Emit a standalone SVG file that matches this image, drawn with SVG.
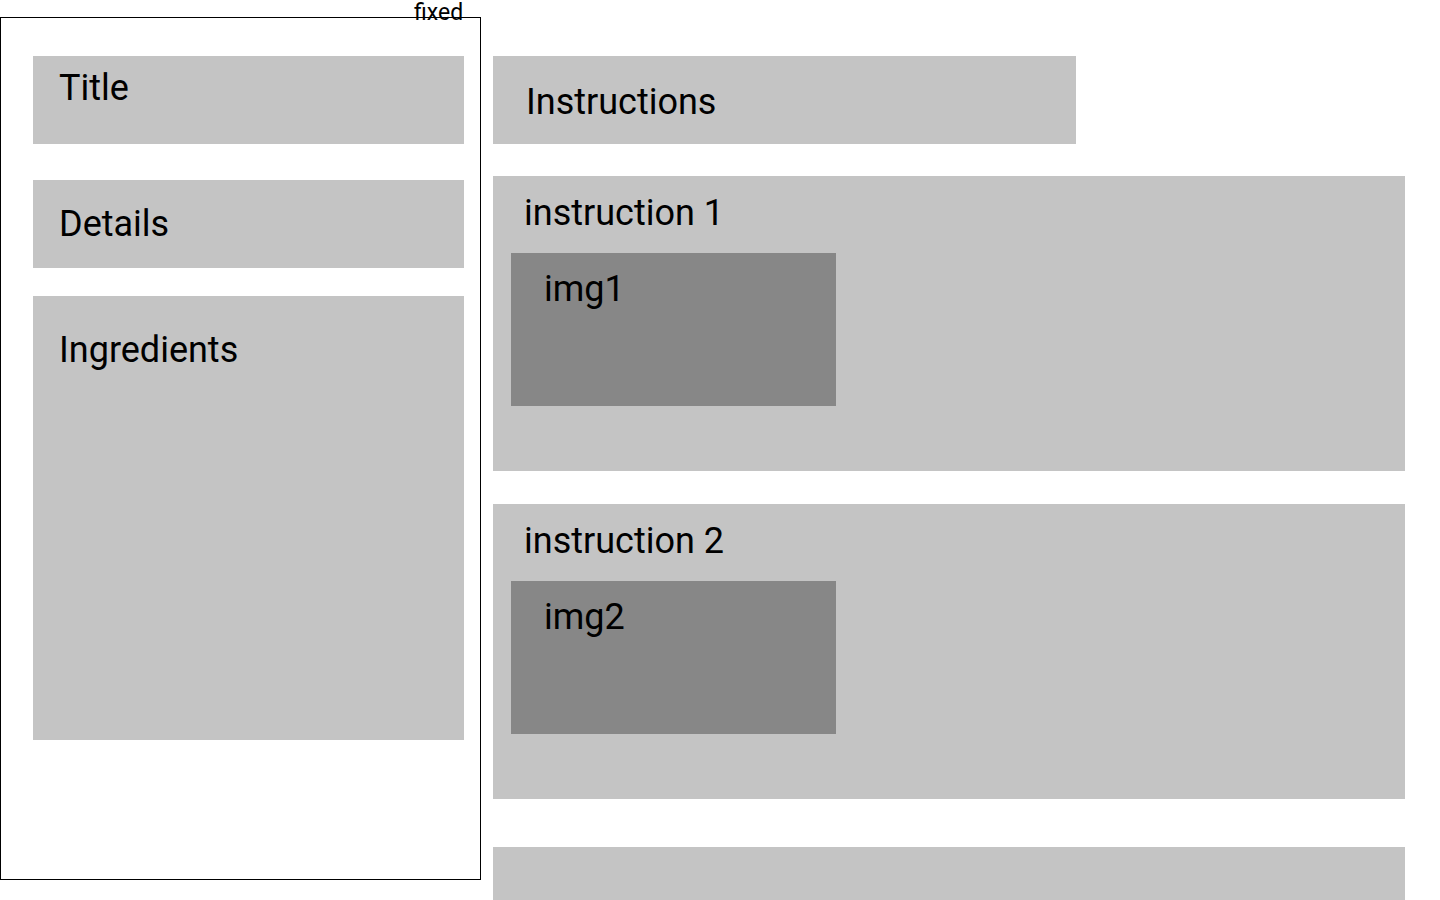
<svg xmlns="http://www.w3.org/2000/svg" width="1440" height="900" viewBox="0 0 1440 900">
<style>
.box{fill:#c4c4c4}
.img{fill:#878787}
.t{font-family:Roboto,"Liberation Sans",sans-serif;font-size:36px;fill:#000}
.s{font-family:Roboto,"Liberation Sans",sans-serif;font-size:23px;fill:#000}
</style>
<rect width="1440" height="900" fill="#fff"/>
<g id="fixed-panel">
<rect x="0.5" y="17.5" width="480" height="862" fill="none" stroke="#000" stroke-width="1"/>
<text class="s" x="414" y="19.5">fixed</text>
</g>
<g id="title"><rect class="box" x="33" y="56" width="431" height="88"/><text class="t" x="59" y="100">Title</text></g>
<g id="details"><rect class="box" x="33" y="180" width="431" height="88"/><text class="t" x="59" y="236">Details</text></g>
<g id="ingredients"><rect class="box" x="33" y="296" width="431" height="444"/><text class="t" x="59" y="362">Ingredients</text></g>
<g id="instructions"><rect class="box" x="493" y="56" width="583" height="88"/><text class="t" x="526" y="114">Instructions</text></g>
<g id="instruction1"><rect class="box" x="493" y="176" width="912" height="295"/><text class="t" x="524" y="225">instruction 1</text>
<g id="img1"><rect class="img" x="511" y="253" width="325" height="153"/><text class="t" x="544" y="301">img1</text></g></g>
<g id="instruction2"><rect class="box" x="493" y="504" width="912" height="295"/><text class="t" x="524" y="553">instruction 2</text>
<g id="img2"><rect class="img" x="511" y="581" width="325" height="153"/><text class="t" x="544" y="629">img2</text></g></g>
<g id="instruction3"><rect class="box" x="493" y="847" width="912" height="53"/></g>
<g id="connectors"></g>
</svg>
